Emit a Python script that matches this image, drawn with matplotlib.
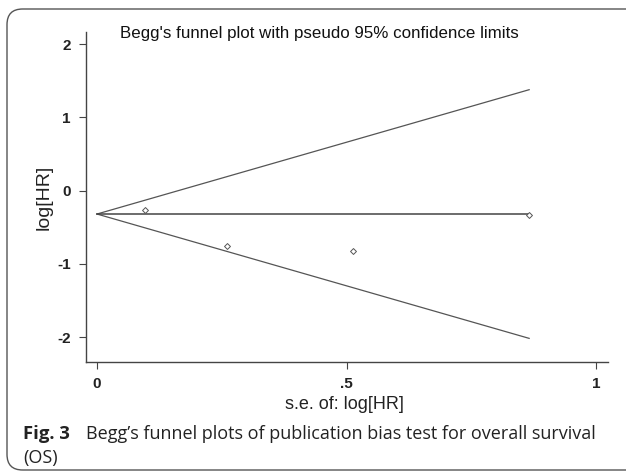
import matplotlib
matplotlib.use("Agg")
import matplotlib.pyplot as plt
from matplotlib.patches import FancyBboxPatch
import numpy as np

se = [0.096, 0.26, 0.513, 0.866]
loghr = [-0.26, -0.75, -0.83, -0.34]
pooled = -0.32
xticks = [0, 0.5, 1]
xticklabels = ["0", ".5", "1"]
yticks = [-2, -1, 0, 1, 2]
yticklabels = ["-2", "-1", "0", "1", "2"]

W, H = 626, 473
fig = plt.figure(figsize=(W / 100, H / 100), dpi=100)
fig.patch.set_facecolor("white")

# rounded border (right side runs off the image)
x0, y0 = 7 / W, 1 - 470 / H
box = FancyBboxPatch((x0, y0), 1.5, (470 - 9) / H,
                     boxstyle="round,pad=0,rounding_size=0.025",
                     transform=fig.transFigure, fill=False, edgecolor="#555555", linewidth=1.0,
                     mutation_aspect=W / H)
fig.add_artist(box)

ax = fig.add_axes([86 / W, 1 - 362 / H, (608 - 86) / W, (362 - 32) / H])
smax = max(se)
xs = np.array([0, smax])
ax.plot(xs, pooled + 1.96 * xs, color="#555555", lw=0.9)
ax.plot(xs, pooled - 1.96 * xs, color="#555555", lw=0.9)
ax.plot(xs, [pooled, pooled], color="#444444", lw=1.1)
ax.scatter(se, loghr, marker="D", s=9, facecolors="white", edgecolors="#555555", linewidths=0.7, zorder=3)

ax.set_xlim(-0.022, 1.024)
ax.set_ylim(-2.34, 2.165)
ax.set_xticks(xticks)
ax.set_xticklabels(xticklabels)
ax.set_yticks(yticks)
ax.set_yticklabels(yticklabels)
for s in ["top", "right"]:
    ax.spines[s].set_visible(False)
for s in ["left", "bottom"]:
    ax.spines[s].set_color("#444444")
    ax.spines[s].set_linewidth(1.0)
ax.tick_params(direction="out", length=5, width=0.8, color="#444444", labelsize=11, pad=6)
for lab in ax.get_xticklabels() + ax.get_yticklabels():
    lab.set_fontfamily("Liberation Sans")
    lab.set_fontweight("bold")
    lab.set_color("#222222")
ax.set_ylabel("log[HR]", fontfamily="Liberation Sans", fontsize=14, color="#222222", labelpad=3)

fig.text(344 / W, 1 - 409 / H, "s.e. of: log[HR]", fontfamily="Liberation Sans", fontsize=13,
         color="#222222", ha="center", va="baseline")
fig.text(319 / W, 1 - 38 / H, "Begg's funnel plot with pseudo 95% confidence limits",
         fontfamily="Liberation Sans", fontsize=12.2, color="#111111", ha="center", va="baseline")

cap_y1 = 1 - 439 / H
cap_y2 = 1 - 463 / H
fig.text(23 / W, cap_y1, "Fig. 3", fontfamily="Open Sans", fontweight="bold", fontsize=13.3,
         color="#222222", va="baseline")
fig.text(86 / W, cap_y1, "Begg\u2019s funnel plots of publication bias test for overall survival",
         fontfamily="Open Sans", fontsize=13, color="#222222", va="baseline")
fig.text(23 / W, cap_y2, "(OS)", fontfamily="Open Sans", fontsize=13, color="#222222", va="baseline")

fig.savefig("out.png", dpi=100)
